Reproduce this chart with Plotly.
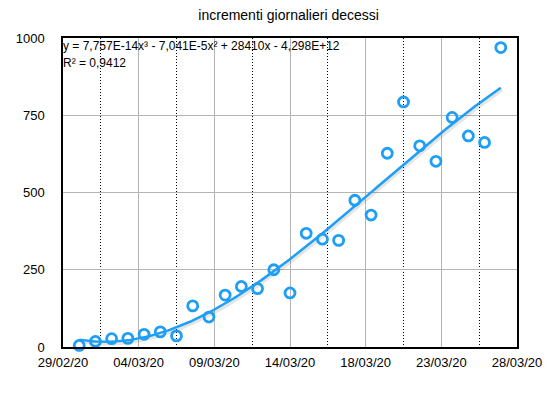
import numpy as np
import pandas as pd
import plotly.graph_objects as go

# Data
dates = pd.date_range("2020-03-01", "2020-03-27", freq="D")
deaths = [5, 18, 27, 28, 41, 49, 36, 133, 97, 168, 196, 189, 250, 175, 368,
          349, 345, 475, 427, 627, 793, 651, 601, 743, 683, 662, 969]

x_start = pd.Timestamp("2020-02-29")
x_end = pd.Timestamp("2020-03-28")
tick_labels = ["29/02/20", "04/03/20", "09/03/20", "14/03/20", "18/03/20", "23/03/20", "28/03/20"]
y_ticks = [0, 250, 500, 750, 1000]

title = "incrementi giornalieri decessi"
eq_text = "y = 7,757E-14x³ - 7,041E-5x² + 28410x - 4,298E+12"
r2_text = "R² = 0,9412"

# Numeric x axis: days since start
xd = np.array([(d - x_start).days for d in dates], dtype=float)
span = (x_end - x_start).days
n_int = len(tick_labels) - 1
major = [span * i / n_int for i in range(n_int + 1)]
minor_vals = [span * (i + 0.5) / n_int for i in range(n_int)]

# cubic trendline fitted on the data
coef = np.polyfit(xd, np.array(deaths, dtype=float), 3)
xf = np.linspace(xd.min(), xd.max(), 200)
yf = np.polyval(coef, xf)

blue = "#1E9EF5"

fig = go.Figure()
fig.add_trace(go.Scatter(x=xf + 0.08, y=yf - 7, mode="lines",
                         line=dict(color="rgba(0,0,0,0.10)", width=3.5),
                         hoverinfo="skip", showlegend=False))
fig.add_trace(go.Scatter(x=xf, y=yf, mode="lines",
                         line=dict(color=blue, width=2.5),
                         showlegend=False))
fig.add_trace(go.Scatter(x=xd, y=deaths, mode="markers",
                         marker=dict(symbol="circle-open", size=10, color=blue,
                                     line=dict(width=2.8, color=blue)),
                         showlegend=False, cliponaxis=False))

fig.update_layout(
    width=555, height=394,
    margin=dict(l=63, r=38, t=38, b=47),
    paper_bgcolor="white", plot_bgcolor="white",
    font=dict(family="Liberation Sans, Arial, sans-serif", size=12, color="black"),
    title=dict(text=title, x=0.52, xanchor="center", y=0.975, yanchor="top",
               font=dict(size=14)),
)
fig.update_xaxes(range=[0, span], tickmode="array", tickvals=major, ticktext=tick_labels,
                 showgrid=True, gridcolor="#b4b4b4", gridwidth=1,
                 minor=dict(tickmode="array", tickvals=minor_vals, showgrid=True,
                            gridcolor="black", griddash="1px,2px", gridwidth=1, ticks=""),
                 showline=True, linecolor="black", linewidth=1.5, mirror=True,
                 ticks="outside", ticklen=3, tickcolor="rgba(0,0,0,0)",
                 zeroline=False, tickfont=dict(size=13))
fig.update_yaxes(range=[0, 1000], tickmode="array", tickvals=y_ticks,
                 showgrid=True, gridcolor="#b4b4b4", gridwidth=1,
                 showline=True, linecolor="black", linewidth=1.5, mirror=True,
                 ticks="outside", ticklen=14, tickcolor="rgba(0,0,0,0)",
                 zeroline=False, tickfont=dict(size=13))

fig.add_annotation(text=eq_text, xref="paper", yref="paper", x=0, y=1,
                   xanchor="left", yanchor="top", showarrow=False,
                   font=dict(size=12), xshift=-2, yshift=1)
fig.add_annotation(text=r2_text, xref="paper", yref="paper", x=0, y=1,
                   xanchor="left", yanchor="top", showarrow=False,
                   font=dict(size=12), xshift=-2, yshift=-16)

fig.write_html("out.html")
